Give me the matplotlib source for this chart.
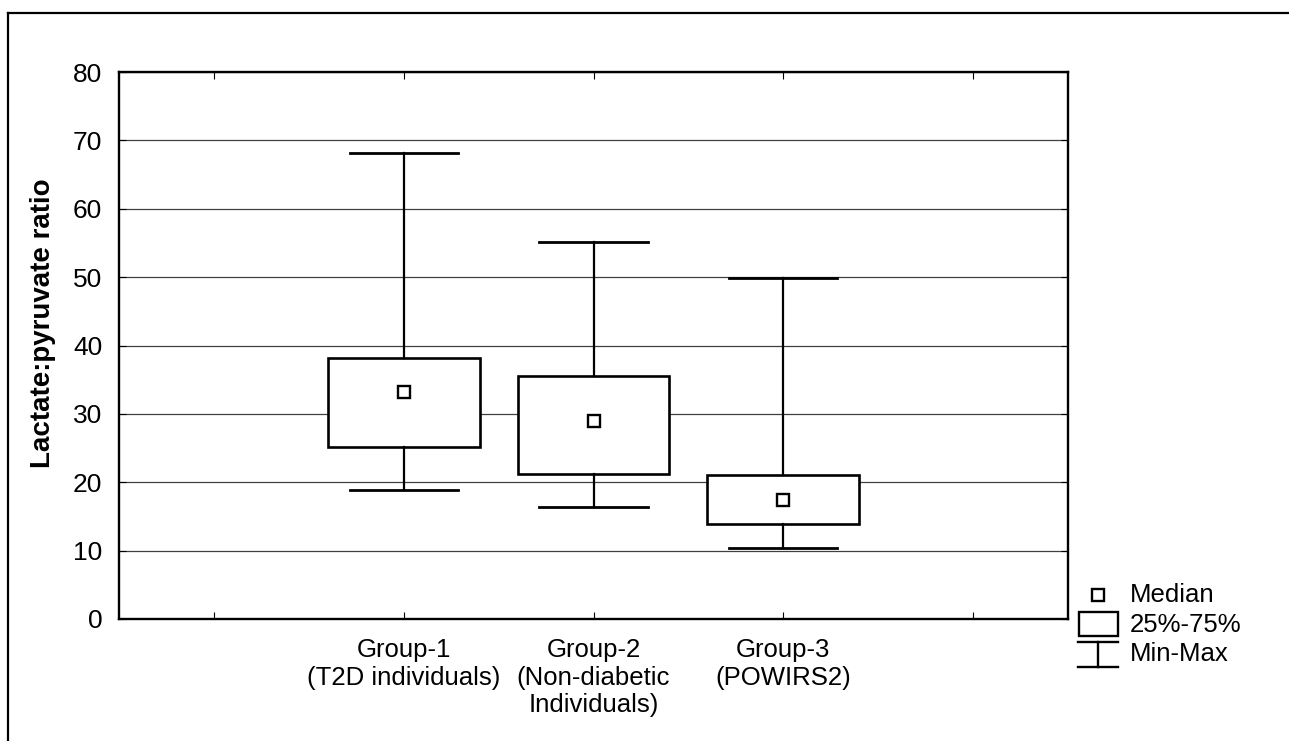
import numpy as np
import matplotlib
matplotlib.use('Agg')
import matplotlib.pyplot as plt
from matplotlib.patches import Rectangle

plt.rcParams['font.family'] = ['Liberation Sans', 'DejaVu Sans']

# values
groups = ['Group-1\n(T2D individuals)', 'Group-2\n(Non-diabetic\nIndividuals)', 'Group-3\n(POWIRS2)']
mins = [18.9, 16.4, 10.4]
q1 = [25.1, 21.2, 13.9]
medians = [33.2, 28.9, 17.4]
q3 = [38.2, 35.5, 21.1]
maxs = [68.2, 55.1, 49.9]
yticks = [0, 10, 20, 30, 40, 50, 60, 70, 80]
ylabel = 'Lactate:pyruvate ratio'
legend_labels = ['Median', '25%-75%', 'Min-Max']

W, H = 1289, 741
fig = plt.figure(figsize=(W / 100, H / 100), dpi=100)
ax = fig.add_axes([119 / W, 1 - 619 / H, 949 / W, 547 / H])

pos = [1, 2, 3]
stats = []
for i in range(len(groups)):
    stats.append(dict(med=medians[i], q1=q1[i], q3=q3[i], whislo=mins[i], whishi=maxs[i], fliers=[]))

ax.bxp(stats, positions=pos, widths=0.8, capwidths=0.57, patch_artist=True,
       showfliers=False,
       boxprops=dict(facecolor='white', edgecolor='black', linewidth=1.9),
       whiskerprops=dict(color='black', linewidth=1.6),
       capprops=dict(color='black', linewidth=2.0),
       medianprops=dict(visible=False), zorder=3)
ax.plot(pos, medians, ls='', marker='s', ms=8.5, mfc='white', mec='black', mew=1.7, zorder=4)

ax.set_xlim(-0.5, 4.5)
ax.set_ylim(0, 80)
ax.set_yticks(yticks)
ax.set_xticks([0, 1, 2, 3, 4])
ax.set_xticklabels([''] + groups + [''], fontsize=18.5, linespacing=1.17)
ax.tick_params(axis='y', labelsize=19, direction='in', length=5, pad=12, right=True)
ax.tick_params(axis='x', direction='in', length=5, pad=14, top=True)
ax.yaxis.grid(True, color='0.25', linewidth=0.9)
ax.set_axisbelow(True)
for s in ax.spines.values():
    s.set_linewidth(1.7)

fig.text(43 / W, 1 - 323 / H, ylabel, rotation=90, ha='center', va='center',
         fontsize=20, fontweight='bold')

# overlay in pixel coordinates for legend and outer frame
ov = fig.add_axes([0, 0, 1, 1], zorder=5)
ov.set_xlim(0, W)
ov.set_ylim(H, 0)
ov.axis('off')
ov.patch.set_alpha(0)
ov.plot([8, W], [13, 13], color='black', lw=1.6)
ov.plot([8, 8], [13, H], color='black', lw=1.6)
ov.plot([1098], [595], ls='', marker='s', ms=8, mfc='white', mec='black', mew=1.7)
ov.add_patch(Rectangle((1079, 612), 39, 24, fill=False, ec='black', lw=1.7))
ov.plot([1078, 1118], [642, 642], color='black', lw=1.7)
ov.plot([1078, 1118], [667, 667], color='black', lw=1.7)
ov.plot([1098, 1098], [642, 667], color='black', lw=1.7)
for lab, yy in zip(legend_labels, [595, 625, 654]):
    ov.text(1130, yy, lab, fontsize=18.5, va='center', ha='left')

fig.savefig('out.png', dpi=100)
